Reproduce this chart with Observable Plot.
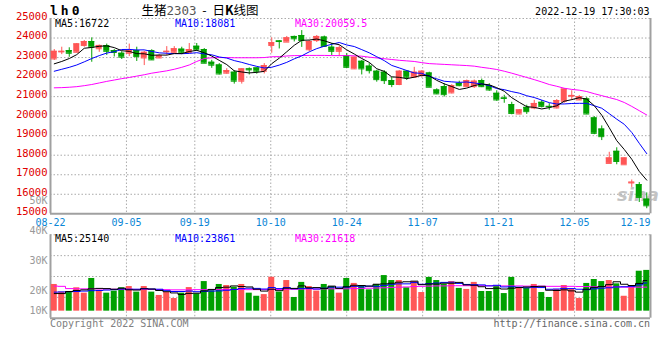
<!DOCTYPE html>
<html><head><meta charset="utf-8">
<script src="https://cdn.jsdelivr.net/npm/d3@7"></script>
<script src="https://cdn.jsdelivr.net/npm/@observablehq/plot@0.6"></script>
<style>
body{margin:0;background:#fff;}
#wrap{position:relative;width:660px;height:360px;overflow:hidden;background:#fff;font-family:"DejaVu Sans Mono",monospace;}
#wrap svg{position:absolute;left:0;top:0;}
.t{position:absolute;white-space:nowrap;font-size:10px;line-height:10px;font-family:"DejaVu Sans Mono",monospace;}
</style></head><body><div id="wrap"></div>
<script>
// ---- data ----
const dates = ["08-22","08-23","08-24","08-25","08-26","08-29","08-30","08-31","09-01","09-02",
"09-05","09-06","09-07","09-08","09-09","09-13","09-14","09-15","09-16","09-19",
"09-20","09-21","09-22","09-23","09-26","09-27","09-28","09-29","09-30","10-10",
"10-11","10-12","10-13","10-14","10-17","10-18","10-19","10-20","10-21","10-24",
"10-25","10-26","10-27","10-28","10-31","11-01","11-02","11-03","11-04","11-07",
"11-08","11-09","11-10","11-11","11-14","11-15","11-16","11-17","11-18","11-21",
"11-22","11-23","11-24","11-25","11-28","11-29","11-30","12-01","12-02","12-05",
"12-06","12-07","12-08","12-09","12-12","12-13","12-14","12-15","12-16","12-19"];
const open = [22930,23290,23360,23270,23615,23820,23450,23615,23360,23220,
23220,23360,22980,23360,22980,23300,23270,23430,23260,23580,
23410,22760,22620,22200,22250,21790,22420,22470,22300,23620,
23850,23790,24080,24130,23400,23870,24050,23530,23320,23100,
22420,22810,22560,22300,22250,21820,21620,22300,21990,22070,
22210,21340,21510,21190,21680,21510,21510,21820,21560,21170,
20930,20590,20110,20450,20420,20710,20500,20420,20760,21020,
20830,20880,19910,19340,17580,18200,17510,16580,16490,15750];
const high = [23410,23530,23500,23720,23870,24010,23640,23690,23410,23300,
23690,23530,23320,23400,23150,23560,23560,23530,23720,23720,
23460,22860,22690,22430,22330,22430,22470,22470,22690,24010,
23870,24080,24100,24380,23870,24130,24100,23720,23600,23200,
23020,22850,22690,22350,22330,21980,22330,22330,22500,22330,
22250,21400,21660,21610,21790,21850,21850,21900,21660,21300,
21070,20710,20340,20560,20810,20800,20640,20850,21400,21300,
21060,20950,19980,19500,18150,18380,17860,16730,16600,16070];
const low = [22850,23150,23015,23250,23530,22760,23270,23110,23030,22900,
23050,22800,22590,22850,22950,23100,23230,23150,23200,23320,
22690,22450,22110,22150,21640,21640,22110,22150,22160,23220,
23440,23790,23800,23520,23310,23770,23520,23100,23050,22450,
22400,22110,22160,21740,21620,21460,21560,21830,21950,22000,
21480,21100,20980,21140,21510,21480,21420,21460,21270,20760,
20660,20070,20080,20090,20330,20420,20300,20370,20660,20800,
20800,20080,19050,18750,17580,17510,17510,16350,15580,15260];
const close = [23320,23320,23220,23700,23820,23530,23620,23320,23260,23020,
23360,23050,23270,22880,23100,23320,23450,23270,23410,23390,
22710,22610,22160,22330,21790,22420,22370,22300,22590,23760,
23820,24010,23960,23870,23820,24080,23570,23320,23500,22500,
23020,22420,22330,21870,21820,21620,22300,21990,22250,22300,
21480,21140,21100,21560,21560,21820,21790,21510,21340,20830,
20910,20140,20320,20230,20650,20500,20480,20800,21390,21060,
21000,20110,19120,18950,17860,17680,17860,16620,15840,15410];
const ma5 = [22680,22800,22950,23150,23476,23518,23578,23598,23510,23350,
23316,23202,23192,23116,23132,23124,23204,23204,23310,23368,
23246,23078,22856,22640,22320,22262,22214,22242,22294,22688,
22968,23296,23628,23884,23896,23948,23860,23732,23658,23394,
23182,22952,22754,22428,22292,22012,21988,21920,21996,22092,
22064,21832,21654,21516,21368,21436,21566,21648,21604,21458,
21276,20946,20708,20486,20450,20368,20436,20532,20764,20846,
20946,20872,20536,20048,19408,18744,18294,17794,17172,16722];
const ma10 = [22300,22400,22500,22620,22780,22950,23100,23230,23300,23413,
23417,23390,23395,23313,23241,23220,23203,23198,23213,23250,
23185,23141,23030,22975,22844,22754,22646,22549,22467,22504,
22615,22755,22935,23089,23292,23458,23578,23680,23771,23645,
23565,23406,23243,23043,22843,22597,22470,22337,22212,22192,
22038,21910,21787,21756,21730,21750,21699,21651,21560,21413,
21356,21256,21178,21045,20954,20822,20691,20620,20625,20648,
20657,20654,20534,20406,20127,19845,19583,19165,18610,18081];
const ma30 = [21450,21460,21480,21510,21560,21620,21700,21780,21850,21920,
21980,22050,22120,22200,22260,22320,22400,22500,22620,22800,
22950,22990,23000,23000,22990,22990,22990,22990,23000,23040,
23050,23080,23100,23100,23110,23110,23110,23100,23100,23100,
23090,23070,23020,22980,22940,22900,22860,22830,22800,22740,
22690,22670,22650,22630,22610,22590,22560,22500,22450,22390,
22300,22200,22090,21980,21870,21750,21620,21530,21430,21370,
21330,21260,21150,21050,20950,20850,20700,20500,20280,20060];
const volume = [22900,19200,19200,21300,18700,25800,20000,18700,19700,21300,
21900,19200,21900,19200,17600,19000,16100,18700,21400,18400,
24300,19900,22900,22400,21600,22900,18700,17200,18000,26400,
19200,24800,16600,23900,21900,19700,22900,21900,18700,25800,
23400,22400,20300,22900,27200,24800,24800,21300,24300,19000,
26300,24800,22900,24300,21000,20500,23900,19500,19500,21900,
18500,26300,21000,21000,22900,19000,16600,20500,22400,20500,
16100,23400,25300,24300,24800,23200,17200,22400,29300,29700];
const volMa5 = [18500,18500,19500,20000,20300,20800,21000,20900,20600,21100,
20300,20200,20800,20700,20000,19400,18800,18100,18600,18700,
19800,20500,21400,21600,22200,21900,21700,20600,19700,20600,
19900,21100,21000,22200,21300,21400,21000,22100,21000,21800,
22500,22400,22100,23000,23200,23500,24000,24200,24500,22800,
23100,23100,23500,23500,23900,22700,22500,21800,20900,21100,
20700,21100,21400,21700,21900,22000,20100,20000,20300,19800,
19200,20600,21500,21900,22800,24200,23000,22400,23400,24800];
const volMa10 = [19200,19300,19400,19500,19700,19900,20000,20200,20400,20700,
20600,20600,20900,20700,20600,19900,19500,19500,19700,19400,
19600,19700,19800,20100,20500,20900,21100,21000,20700,21400,
20900,21400,20800,21000,21000,20700,21100,21600,21600,21600,
22000,21700,22100,22000,22500,23000,23200,23200,23800,23000,
23300,23600,23900,24000,23400,22900,22800,22700,22200,22500,
21700,21800,21600,21300,21500,21400,20600,20700,21000,20900,
20600,20400,20800,21100,21300,21700,21800,22000,22700,23600];
const volMa30 = [22100,22000,20900,20800,20800,20800,20700,20700,20600,20600,
20600,20500,20500,20500,20400,20400,20300,20300,20300,20400,
20400,20400,20500,20500,20500,20500,20400,20400,20400,20500,
20500,20600,20600,20700,20700,20700,20800,20800,20800,20800,
20900,21000,21100,21200,21300,21500,21600,21700,21900,22000,
22100,22200,22200,22300,22300,22300,22300,22300,22300,22300,
22200,22200,22200,22100,22100,22100,22000,22000,22000,22000,
21900,21900,21800,21800,21700,21700,21600,21600,21600,21618];
const priceTicks = [15000,16000,17000,18000,19000,20000,21000,22000,23000,24000,25000];
const dateLabels = ["08-22","09-05","09-19","10-10","10-24","11-07","11-21","12-05","12-19"];
const volTicksLow = [10000,20000];
const volTicksHigh = [30000,40000,50000];
const legendPrice = [["MA5:16722","#000"],["MA10:18081","#0000ff"],["MA30:20059.5","#ff00ff"]];
const legendVol = [["MA5:25140","#000"],["MA10:23861","#0000ff"],["MA30:21618","#ff00ff"]];

// ---- styles / helpers ----
const upColor = "#ff5656", downColor = "#00a000";
const gridColor = "#aaaaaa", frameColor = "#a0a0a0";
const priceMin = 15000, priceMax = 25000;
const volMin = 6600, volMax = 46900, volBase = 10000;
const volGrid = d3.range(5).map(i => volMin + i * (volMax - volMin) / 4);
const N = dates.length;
const rows = dates.map((d, i) => ({
  date: d, open: open[i], high: high[i], low: low[i], close: close[i],
  ma5: ma5[i], ma10: ma10[i], ma30: ma30[i],
  volume: volume[i], vma5: volMa5[i], vma10: volMa10[i], vma30: volMa30[i],
  color: close[i] >= open[i] ? upColor : downColor
}));
const gridDates = dateLabels.slice(1, -1);
const dotted = {stroke: gridColor, strokeDasharray: "1.5,2", strokeWidth: 1};
const solid = {stroke: frameColor, strokeWidth: 2};
const kfmt = d => d / 1000 + "K";

function layer(opts) {
  return Plot.plot(Object.assign({
    width: 660, height: 360, marginLeft: 50, marginRight: 10,
    style: {background: "none", overflow: "visible", fontFamily: "DejaVu Sans Mono, monospace", fontSize: "10px"}
  }, opts));
}
const wrap = document.getElementById("wrap");
function addText(txt, css, html) {
  const el = document.createElement("div");
  el.className = "t";
  if (html) el.innerHTML = txt; else el.textContent = txt;
  Object.assign(el.style, css);
  wrap.appendChild(el);
  return el;
}

// price panel background + axes
wrap.appendChild(layer({
  marginTop: 18, marginBottom: 146.7,
  x: {type: "point", domain: dates, padding: 0},
  y: {domain: [priceMin, priceMax]},
  marks: [
    Plot.ruleY(priceTicks.slice(1), dotted),
    Plot.ruleX(gridDates, dotted),
    Plot.ruleY([priceMin], solid),
    Plot.ruleX([dates[0], dates[N - 1]], solid),
    Plot.axisY({ticks: priceTicks, tickSize: 0, tickPadding: 3, tickFormat: d => String(d), fill: "#e00000", fontSize: 10.5, dy: -2, label: null}),
    Plot.axisX({ticks: dateLabels.slice(0, -1), tickSize: 0, tickPadding: 5, fill: "#0a86d6", fontSize: 10, label: null}),
    Plot.axisX({ticks: [dateLabels[dateLabels.length - 1]], tickSize: 0, tickPadding: 5, fill: "#0a86d6", fontSize: 10, textAnchor: "end", label: null})
  ]
}));

// watermark
addText("sina", {left: "617px", top: "186px", fontFamily: "DejaVu Sans", fontStyle: "italic", fontWeight: "bold", fontSize: "18px", lineHeight: "18px", color: "rgba(175,175,175,0.75)"});

// candles + MA lines
wrap.appendChild(layer({
  marginTop: 18, marginBottom: 146.7,
  x: {type: "band", domain: dates, padding: 0, axis: null},
  y: {domain: [priceMin, priceMax], axis: null},
  color: {type: "identity"},
  marks: [
    Plot.ruleX(rows, {x: "date", y1: "low", y2: "high", stroke: "color", strokeWidth: 1}),
    Plot.barY(rows, {x: "date", y1: "open", y2: "close", fill: "color", insetLeft: 0.75, insetRight: 0.75}),
    Plot.tickY(rows, {x: "date", y: "open", stroke: "color", insetLeft: 0.75, insetRight: 0.75}),
    Plot.tickY(rows, {x: "date", y: "close", stroke: "color", insetLeft: 0.75, insetRight: 0.75}),
    Plot.line(rows, {x: "date", y: "ma30", stroke: "#ff00ff", strokeWidth: 1}),
    Plot.line(rows, {x: "date", y: "ma10", stroke: "#0000ff", strokeWidth: 1}),
    Plot.line(rows, {x: "date", y: "ma5", stroke: "#000000", strokeWidth: 1})
  ]
}));

// volume panel background + axes
wrap.appendChild(layer({
  marginTop: 234.3, marginBottom: 42.3,
  x: {type: "point", domain: dates, padding: 0, axis: null},
  y: {domain: [volMin, volMax]},
  marks: [
    Plot.ruleY(volGrid.slice(1), dotted),
    Plot.ruleX(gridDates, dotted),
    Plot.ruleY([volMin], solid),
    Plot.ruleX([dates[0], dates[N - 1]], solid),
    Plot.axisY({ticks: volTicksLow, tickSize: 0, tickPadding: 3, tickFormat: kfmt, fill: "#999", fontSize: 10, label: null})
  ]
}));
// upper volume labels as placed in the reference
wrap.appendChild(layer({
  marginTop: 200.7, marginBottom: 69.3,
  x: {type: "point", domain: dates, padding: 0, axis: null},
  y: {domain: [20000, 50000]},
  marks: [
    Plot.axisY({ticks: volTicksHigh, tickSize: 0, tickPadding: 3, tickFormat: kfmt, fill: "#999", fontSize: 10, label: null})
  ]
}));
// volume bars + MA lines
wrap.appendChild(layer({
  marginTop: 234.3, marginBottom: 42.3,
  x: {type: "band", domain: dates, padding: 0, axis: null},
  y: {domain: [volMin, volMax], axis: null},
  color: {type: "identity"},
  marks: [
    Plot.barY(rows, {x: "date", y1: volBase, y2: "volume", fill: "color", insetLeft: 0.75, insetRight: 0.75}),
    Plot.line(rows, {x: "date", y: "vma30", stroke: "#ff00ff", strokeWidth: 1, curve: "step"}),
    Plot.line(rows, {x: "date", y: "vma10", stroke: "#0000ff", strokeWidth: 1, curve: "step"}),
    Plot.line(rows, {x: "date", y: "vma5", stroke: "#000000", strokeWidth: 1, curve: "step"})
  ]
}));

// texts
addText("lh0", {left: "50px", top: "4px", fontWeight: "bold", fontSize: "13px", lineHeight: "13px", letterSpacing: "3px", color: "#000"});
addText('生猪<span style="color:#555;font-family:\'DejaVu Sans Mono\'">2303</span> - 日<b>K</b>线图',
  {left: "200px", top: "3px", transform: "translateX(-50%)", fontFamily: "'Noto Sans CJK SC'", fontSize: "12.5px", lineHeight: "13px", color: "#000", wordSpacing: "3px"}, true);
addText("2022-12-19 17:30:03", {right: "10.5px", top: "7px", color: "#000"});
const lx = [55, 175, 295];
legendPrice.forEach(([t, c], i) => addText(t, {left: lx[i] + "px", top: "18.5px", color: c}));
legendVol.forEach(([t, c], i) => addText(t, {left: lx[i] + "px", top: "233.7px", color: c}));
addText("Copyright 2022 SINA.COM", {left: "50px", top: "318.5px", color: "#808080"});
addText("http://finance.sina.com.cn", {right: "10px", top: "318.5px", color: "#666"});
</script></body></html>
